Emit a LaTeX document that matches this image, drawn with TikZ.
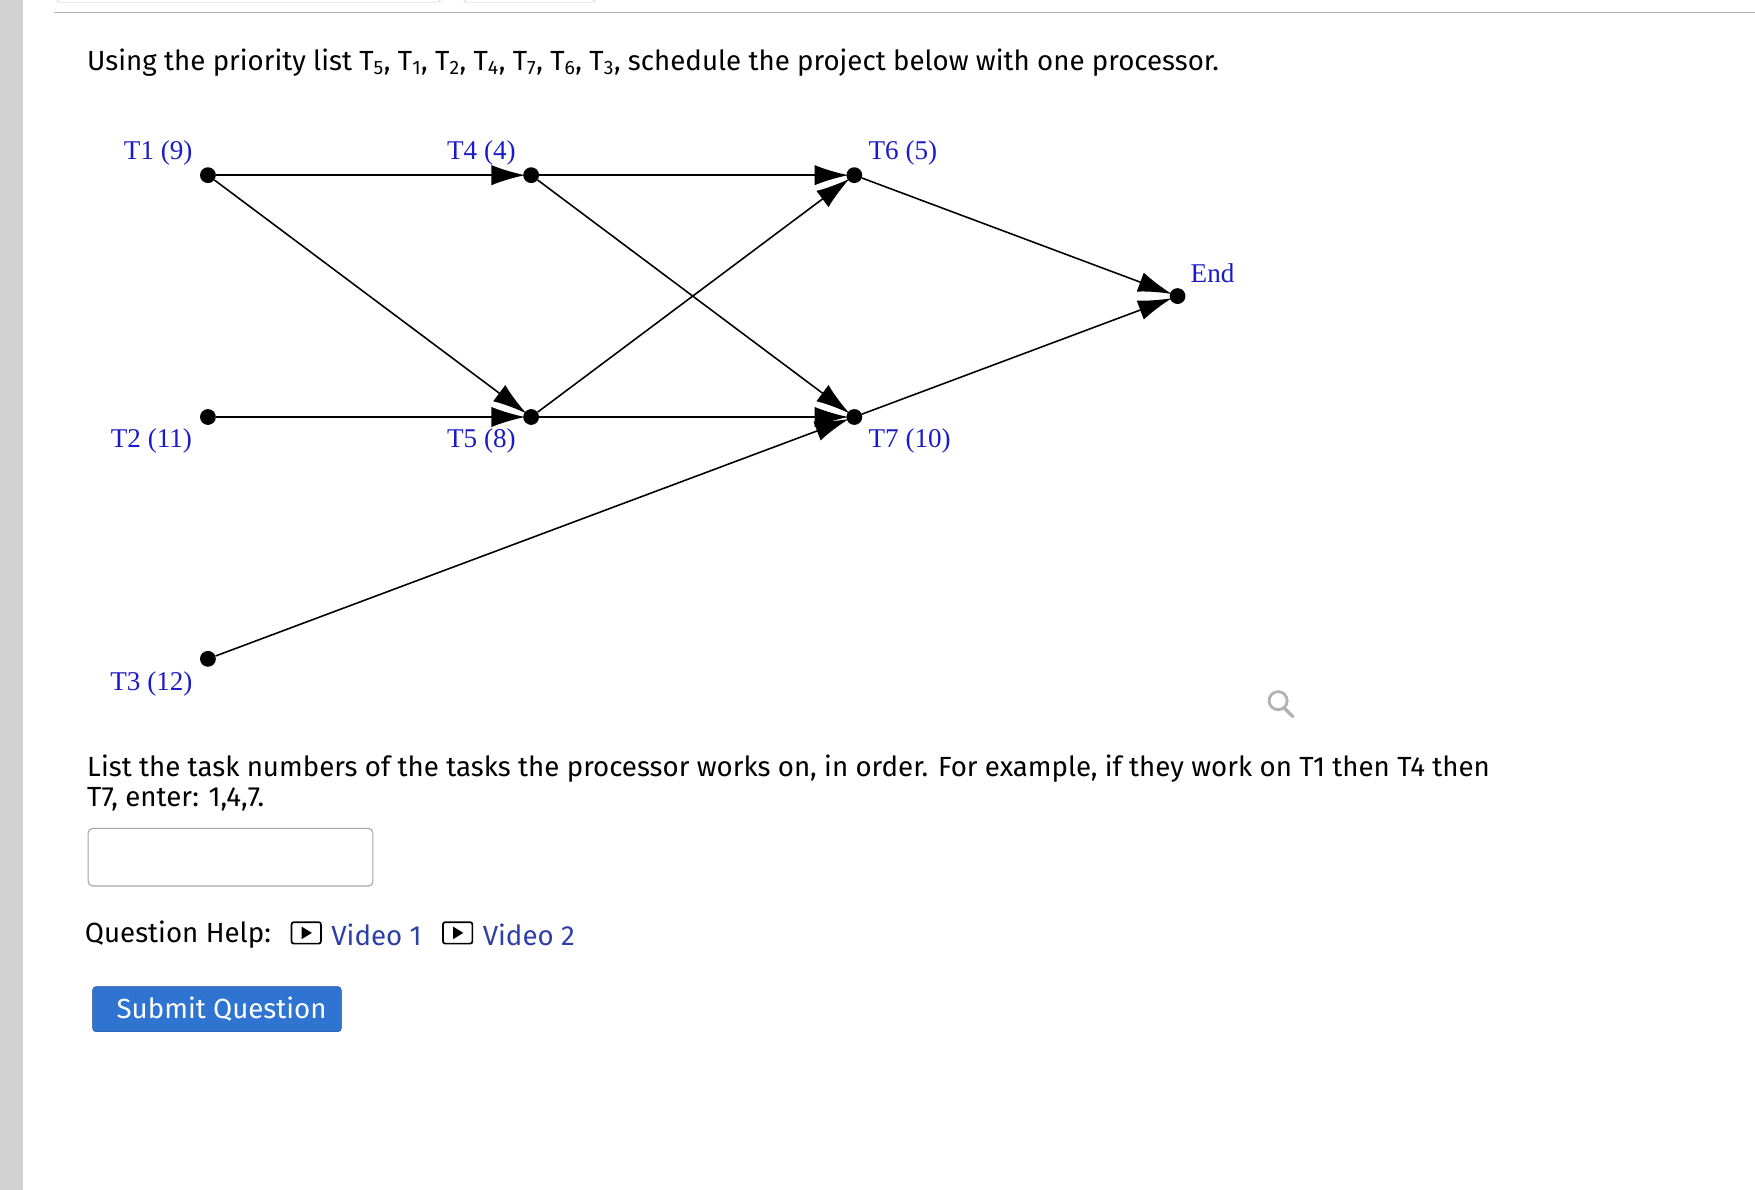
\documentclass[tikz,border=0pt]{standalone}
\usepackage{fontspec}
\setmainfont{Fira Sans}
\newfontfamily\graphfont{Liberation Serif}
\usetikzlibrary{arrows.meta}
\definecolor{lblue}{HTML}{1A1AC8}
\definecolor{linkblue}{HTML}{2E3FA8}
\definecolor{btnblue}{HTML}{2F74D0}
\begin{document}
\begin{tikzpicture}[x=1pt,y=-1pt,
  dot/.style={circle,fill=black,inner sep=0pt,minimum size=14pt},
  lbl/.style={text=lblue,font=\graphfont\fontsize{24}{26}\selectfont,inner sep=0pt},
  edge/.style={line width=1.4pt,-{Latex[length=30pt,width=18pt]},shorten >=-2pt},
  ui/.style={font=\fontsize{24.5}{30}\selectfont,anchor=west,inner sep=0pt}]
\useasboundingbox (0,0) rectangle (1553,1053);
\fill[gray!35] (0,0) rectangle (20,1053);
\draw[gray!60,line width=1pt] (48,11) -- (1553,11);
\draw[gray!50,rounded corners=3pt] (50,-5) -- (50,2) -- (390,2) -- (390,-5);
\draw[gray!50,rounded corners=3pt] (410,-5) -- (410,2) -- (527,2) -- (527,-5);
\node[ui] (q) at (77,55) {Using the priority list T\textsubscript{5}, T\textsubscript{1}, T\textsubscript{2}, T\textsubscript{4}, T\textsubscript{7}, T\textsubscript{6}, T\textsubscript{3}, schedule the project below with one processor.};
\node[dot] (t1) at (184,155) {};
\node[dot] (t4) at (470,155) {};
\node[dot] (t6) at (756,155) {};
\node[dot] (end) at (1042,262) {};
\node[dot] (t2) at (184,369) {};
\node[dot] (t5) at (470,369) {};
\node[dot] (t7) at (756,369) {};
\node[dot] (t3) at (184,583) {};
\node[lbl] (l1) at (140,135) {T1 (9)};
\node[lbl] (l4) at (426,135) {T4 (4)};
\node[lbl] (l6) at (799,135) {T6 (5)};
\node[lbl] (le) at (1073,242) {End};
\node[lbl] (l2) at (134,390) {T2 (11)};
\node[lbl] (l5) at (426,390) {T5 (8)};
\node[lbl] (l7) at (805,390) {T7 (10)};
\node[lbl] (l3) at (134,605) {T3 (12)};
\draw[edge] (t1) -- (t4);
\draw[edge] (t1) -- (t5);
\draw[edge] (t2) -- (t5);
\draw[edge] (t4) -- (t6);
\draw[edge] (t4) -- (t7);
\draw[edge] (t5) -- (t6);
\draw[edge] (t5) -- (t7);
\draw[edge] (t3) -- (t7);
\draw[edge] (t6) -- (end);
\draw[edge] (t7) -- (end);
\draw[gray!60,line width=2.5pt] (1131,620) circle (8);
\draw[gray!60,line width=3pt,line cap=round] (1137,627) -- (1144,634);
\node[ui] (p1) at (77,680) {List the task numbers of the tasks the processor works on, in order. For example, if they work on T1 then T4 then};
\node[ui] (p2) at (77,707) {T7, enter: 1,4,7.};
\draw[gray!70,line width=1pt,rounded corners=4pt] (78,733) rectangle (330,784);
\node[ui] (h) at (75,827) {Question Help:};
\draw[black,line width=1.5pt,rounded corners=2pt] (258,816) rectangle (284,835);
\fill (267,820) -- (267,831) -- (276,825.5) -- cycle;
\node[ui,text=linkblue] (v1) at (293,827) {Video 1};
\draw[black,line width=1.5pt,rounded corners=2pt] (392,816) rectangle (418,835);
\fill (401,820) -- (401,831) -- (410,825.5) -- cycle;
\node[ui,text=linkblue] (v2) at (427,827) {Video 2};
\draw[fill=btnblue,draw=btnblue!70!black,rounded corners=3pt] (82,873) rectangle (302,913);
\node[ui,text=white] (b) at (103,893) {Submit Question};
\end{tikzpicture}
\end{document}
